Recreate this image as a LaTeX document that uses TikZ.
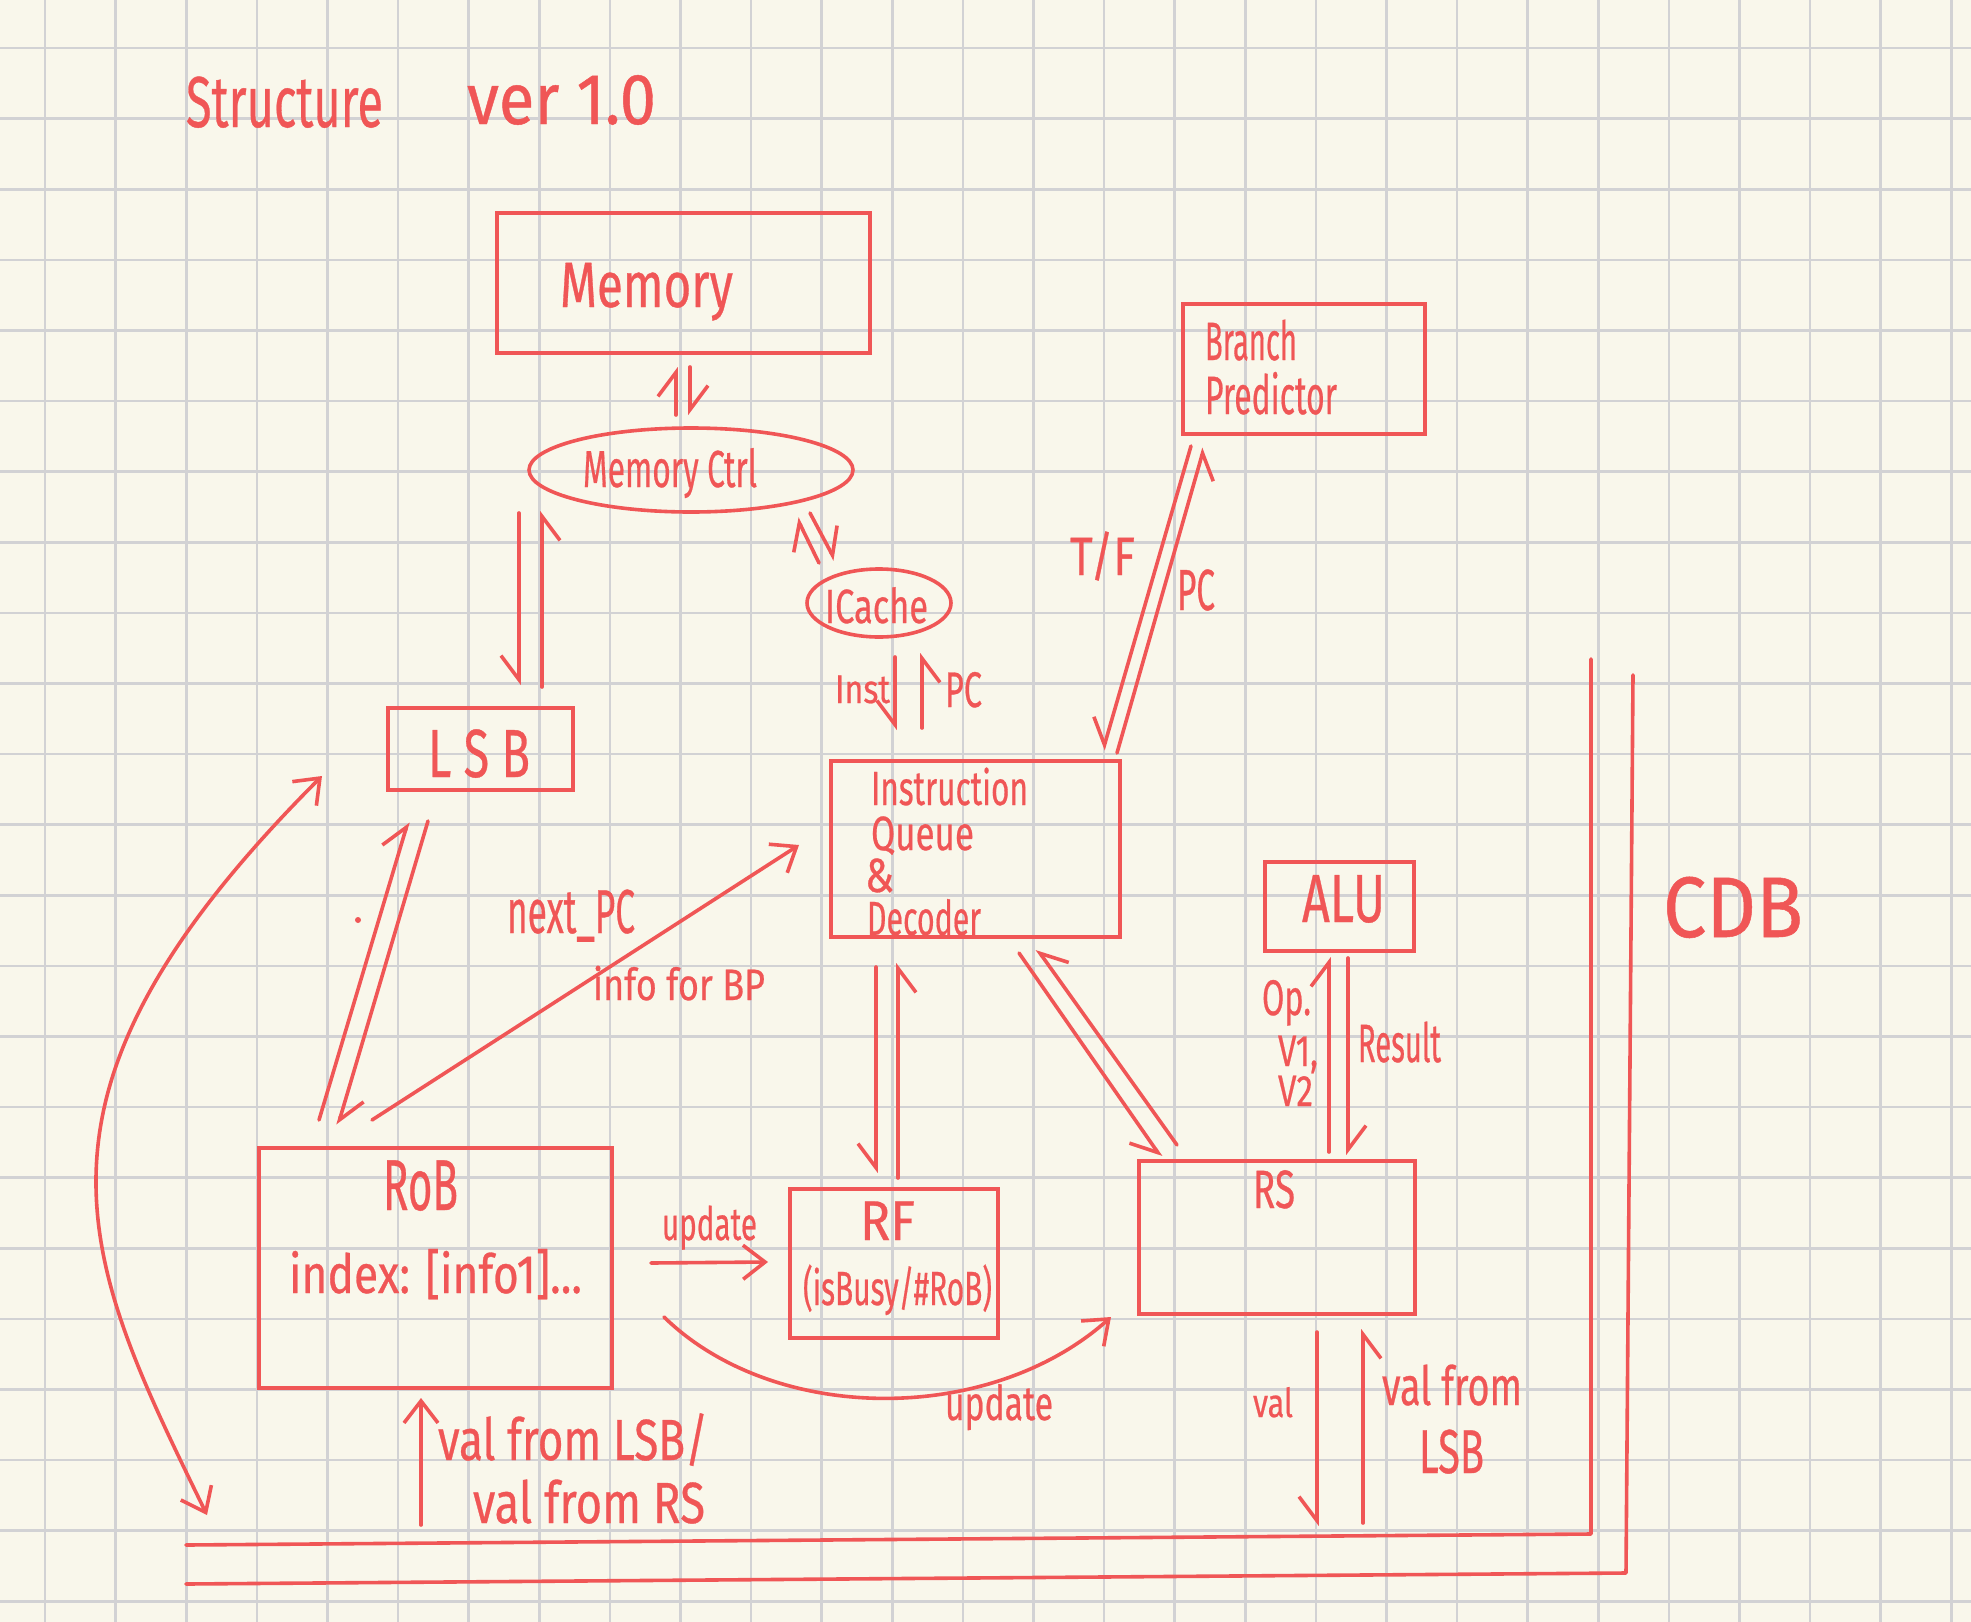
\documentclass[tikz,border=0pt]{standalone}
\usepackage{fontspec}
\setmainfont{Fira Sans}[FakeBold=0.6]
\usepackage{graphicx}
\usetikzlibrary{arrows.meta,shapes.geometric,calc}
\definecolor{ink}{RGB}{240,86,86}
\definecolor{paper}{RGB}{249,247,235}
\definecolor{gridc}{RGB}{210,210,212}
\newcommand\hw[3]{\resizebox{#1pt}{\height}{\fontsize{#2pt}{#2pt}\selectfont #3}}
\begin{document}
\begin{tikzpicture}[x=0.5pt,y=-0.5pt,
  blk/.style={draw=ink,line width=1.8pt,rectangle,inner sep=0pt,outer sep=0pt},
  oval/.style={draw=ink,line width=1.8pt,ellipse,inner sep=0pt,outer sep=0pt},
  txt/.style={text=ink,inner sep=0pt,outer sep=0pt,anchor=base west},
  wire/.style={draw=ink,line width=1.8pt,line cap=round,line join=round},
  arr/.style={wire,-{Straight Barb[length=11pt,width=17pt]}},
  biarr/.style={wire,{Straight Barb[length=11pt,width=17pt]}-{Straight Barb[length=11pt,width=17pt]}},
  harp/.style={wire,-{Straight Barb[harpoon,length=12pt,width=18pt]}},
  harps/.style={wire,-{Straight Barb[harpoon,swap,length=12pt,width=18pt]}},
  gridl/.style={draw=gridc,line width=1.3pt}]
% background and grid
\fill[paper] (0,0) rectangle (1971,1622);
\useasboundingbox (0,0) rectangle (1971,1622);
\foreach \i in {0,...,27} \draw[gridl] ({45+70.6*\i},0) -- ({45+70.6*\i},1622);
\foreach \j in {0,...,22} \draw[gridl] (0,{48+70.6*\j}) -- (1971,{48+70.6*\j});

% title
\node[txt] (title1) at (186,127) {\hw{98.5}{36}{Structure}};
\node[txt] (title2) at (467,124) {\hw{94.5}{36}{ver 1.0}};

% blocks
\node[blk,minimum width=186.5pt,minimum height=70pt] (mem) at (683.5,283) {};
\node[oval,minimum width=162pt,minimum height=42pt] (ctrl) at (691,470) {};
\node[oval,minimum width=72pt,minimum height=34pt] (icache) at (879,603) {};
\node[blk,minimum width=121pt,minimum height=65pt] (bp) at (1304,369) {};
\node[blk,minimum width=92.5pt,minimum height=41pt] (lsb) at (480.5,749) {};
\node[blk,minimum width=144.5pt,minimum height=88pt] (iq) at (975.5,849) {};
\node[blk,minimum width=74.5pt,minimum height=44.5pt] (alu) at (1339.5,906.5) {};
\node[blk,minimum width=176.5pt,minimum height=120pt] (rob) at (435.5,1268) {};
\node[blk,minimum width=104pt,minimum height=74.5pt] (rf) at (894,1263.5) {};
\node[blk,minimum width=138pt,minimum height=76.5pt] (rs) at (1277,1237.5) {};

% block texts
\node[txt] (memt) at (560,307) {\hw{86.5}{32}{Memory}};
\node[txt] (ctrlt) at (583,487) {\hw{87}{26}{Memory Ctrl}};
\node[txt] (icachet) at (825,623) {\hw{51.5}{24}{ICache}};
\node[txt] (brancht) at (1205,360) {\hw{46}{27}{Branch}};
\node[txt] (predt) at (1205,414) {\hw{66}{27}{Predictor}};
\node[txt] (lsbt) at (428,777) {\hw{51}{34}{L S B}};
\node[txt] (iqt1) at (871,805) {\hw{78.5}{24}{Instruction}};
\node[txt] (iqt2) at (871,850) {\hw{51.5}{24}{Queue}};
\node[txt] (iqt3) at (865,892) {\hw{14.5}{24}{\&}};
\node[txt] (iqt4) at (867,935) {\hw{57}{24}{Decoder}};
\node[txt] (alut) at (1302,922) {\hw{41.5}{34}{ALU}};
\node[txt] (robt) at (383,1210) {\hw{37.5}{36}{RoB}};
\node[txt] (robi) at (289,1293) {\hw{146.5}{27}{index: [info1]...}};
\node[txt] (rft) at (860,1240) {\hw{27.5}{28}{RF}};
\node[txt] (rfi) at (803,1305) {\hw{94.5}{24}{(isBusy/\#RoB)}};
\node[txt] (rst) at (1253,1208) {\hw{21}{27}{RS}};
\node[txt] (cdbt) at (1663,937) {\hw{70}{43}{CDB}};

% connector labels
\node[txt] (lInst) at (835,703) {\hw{27.5}{20}{Inst}};
\node[txt] (lPC1) at (945,707) {\hw{18.5}{25}{PC}};
\node[txt] (lTF) at (1070,575) {\hw{32.5}{27}{T/F}};
\node[txt] (lPC2) at (1177,610) {\hw{19}{29}{PC}};
\node[txt] (lOp) at (1262,1015) {\hw{24.5}{25}{Op.}};
\node[txt] (lV1) at (1278,1066) {\hw{20}{22}{V1,}};
\node[txt] (lV2) at (1278,1106) {\hw{17.5}{22}{V2}};
\node[txt] (lRes) at (1358,1062) {\hw{41.5}{27}{Result}};
\node[txt] (lNext) at (507,933) {\hw{64}{31}{next\_PC}};
\node[txt] (lInfo) at (593,1000) {\hw{86}{22}{info for BP}};
\node[txt] (lUpd1) at (662,1240) {\hw{47.5}{23}{update}};
\node[txt] (lUpd2) at (945,1420) {\hw{54}{24}{update}};
\node[txt] (lVal1) at (438,1460) {\hw{135}{29}{val from LSB/}};
\node[txt] (lVal2) at (473,1523) {\hw{116}{29}{val from RS}};
\node[txt] (lVal3) at (1253,1417) {\hw{20}{20}{val}};
\node[txt] (lVal4) at (1382,1405) {\hw{70}{27}{val from}};
\node[txt] (lVal5) at (1419,1473) {\hw{32.5}{31}{LSB}};

% connectors
\draw[harp] ($(mem.south)+(-7.5,62)$) -- ($(mem.south)+(-7.5,14)$);
\draw[harp] ($(mem.south)+(6.5,14)$) -- ($(mem.south)+(6.5,62)$);
\draw[harps] ($(lsb.north)+(38.5,-195)$) -- ($(lsb.north)+(38.5,-23)$);
\draw[harps] ($(lsb.north)+(61.5,-21)$) -- ($(lsb.north)+(61.5,-197)$);
\draw[harp] ($(icache.center)+(-60,-40)$) -- ($(icache.center)+(-82,-85)$);
\draw[harp] ($(icache.center)+(-69,-90)$) -- ($(icache.center)+(-44,-43)$);
\draw[harps] ($(iq.north)+(-80.5,-104)$) -- ($(iq.north)+(-80.5,-31)$);
\draw[harps] ($(iq.north)+(-53.5,-33)$) -- ($(iq.north)+(-53.5,-108)$);
\draw[harps] ($(bp.south)+(-113,12)$) -- ($(bp.south)+(-201,316)$);
\draw[harps] ($(bp.south)+(-187,319)$) -- ($(bp.south)+(-100,14)$);
\draw[harps] ($(iq.south)+(-99.5,30)$) -- ($(iq.south)+(-99.5,236)$);
\draw[harps] ($(iq.south)+(-77.5,241)$) -- ($(iq.south)+(-77.5,26)$);
\draw[harps] ($(iq.south)+(43.5,16)$) -- ($(iq.south)+(185.5,220)$);
\draw[harps] ($(iq.south)+(201.5,208)$) -- ($(iq.south)+(61.5,12)$);
\draw[harp] ($(alu.south)+(-10.5,201)$) -- ($(alu.south)+(-10.5,6)$);
\draw[harp] ($(alu.south)+(8.5,7)$) -- ($(alu.south)+(8.5,204)$);
\draw[harp] ($(rob.north)+(-116.5,-28)$) -- ($(rob.north)+(-27.5,-326)$);
\draw[harp] ($(rob.north)+(-7.5,-327)$) -- ($(rob.north)+(-97.5,-23)$);
\draw[arr] ($(rob.north)+(-63.5,-28)$) -- ($(iq.west)+(-32,-4)$);
\draw[arr] ($(rob.east)+(39,-5)$) -- ($(rf.west)+(-22,-1.5)$);
\draw[arr] ($(rob.east)+(52,49)$) .. controls +(111,108) and +(-121,108) .. ($(rs.west)+(-28,79.5)$);
\draw[arr] ($(rob.south)+(-14.5,137)$) -- ($(rob.south)+(-14.5,10)$);
\draw[harps] ($(rs.south)+(40,18)$) -- ($(rs.south)+(40,212)$);
\draw[harps] ($(rs.south)+(86,209)$) -- ($(rs.south)+(86,15)$);
\draw[biarr] ($(lsb.west)+(-66,27)$) .. controls +(-322,322) and +(-125,-257) .. ($(rob.south west)+(-52,127)$);

% CDB bus
\coordinate (cdbA) at (186,1545);
\coordinate (cdbB) at (1591,1534);
\coordinate (cdbC) at (1591,659);
\coordinate (cdbD) at (186,1584);
\coordinate (cdbE) at (1626,1573);
\coordinate (cdbF) at (1633,675);
\draw[wire] (cdbA) -- (cdbB) -- (cdbC);
\draw[wire] (cdbD) -- (cdbE) -- (cdbF);

% stray dot
\fill[ink] (358,920) circle (1.5pt);
\end{tikzpicture}
\end{document}
